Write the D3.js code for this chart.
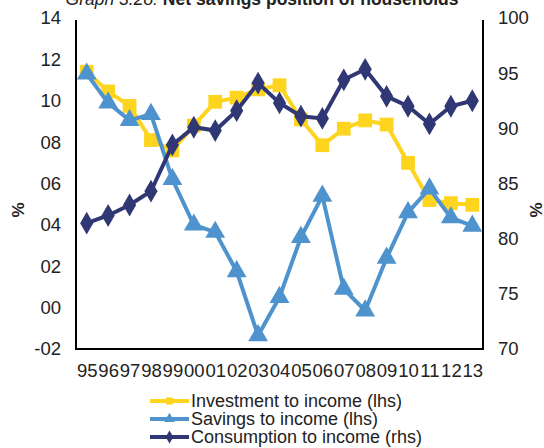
<!DOCTYPE html>
<html>
<head>
<meta charset="utf-8">
<script src="https://cdn.jsdelivr.net/npm/d3@7"></script>
<style>
  body { margin: 0; background: #fff; }
  text { font-family: "Liberation Sans", Arial, sans-serif; fill: #222; }
</style>
</head>
<body>
<div id="chart"></div>
<script>
// years along the x axis
const years = ["95","96","97","98","99","00","01","02","03","04","05","06","07","08","09","10","11","12","13"];

// lhs series (%)
const investment = [11.4, 10.45, 9.75, 8.1, 7.6, 8.8, 9.95, 10.15, 10.55, 10.75, 9.1, 7.85, 8.65, 9.05, 8.85, 7.0, 5.2, 5.05, 4.97];
const savings = [11.3, 9.9, 9.05, 9.35, 6.2, 4.0, 3.65, 1.75, -1.35, 0.5, 3.4, 5.4, 0.9, -0.15, 2.4, 4.6, 5.75, 4.35, 3.95];

// rhs series (%)
const consumption = [81.4, 82.1, 83.05, 84.3, 88.5, 90.1, 89.8, 91.6, 94.1, 92.3, 91.1, 90.9, 94.4, 95.35, 92.9, 92.0, 90.4, 92.0, 92.5];

const leftTicks = [-2, 0, 2, 4, 6, 8, 10, 12, 14];
const rightTicks = [70, 75, 80, 85, 90, 95, 100];

const W = 544, H = 448;
const margin = {top: 18, right: 61, bottom: 99, left: 76};

const svg = d3.select("#chart").append("svg")
  .attr("width", W)
  .attr("height", H);

const x = d3.scalePoint()
  .domain(years)
  .range([margin.left, W - margin.right])
  .padding(0.5);

const yL = d3.scaleLinear().domain([-2, 14]).range([H - margin.bottom, margin.top]);
const yR = d3.scaleLinear().domain([70, 100]).range([H - margin.bottom, margin.top]);

// title (partly clipped at the top like the original)
const title = svg.append("text")
  .attr("x", 262)
  .attr("y", 5)
  .attr("text-anchor", "middle")
  .style("font-size", "17.5px");
title.append("tspan").style("font-style", "italic").text("Graph 3.28: ");
title.append("tspan").style("font-weight", "bold").text("Net savings position of households");

// axes
const fmtL = d => d < 0 ? "-" + String(Math.abs(d)).padStart(2, "0") : String(d).padStart(2, "0");

const axL = svg.append("g")
  .attr("transform", `translate(${margin.left},0)`)
  .call(d3.axisLeft(yL).tickValues(leftTicks).tickFormat(fmtL).tickSize(0).tickPadding(15));
const axR = svg.append("g")
  .attr("transform", `translate(${W - margin.right},0)`)
  .call(d3.axisRight(yR).tickValues(rightTicks).tickSize(0).tickPadding(15));
const axB = svg.append("g")
  .attr("transform", `translate(0,${H - margin.bottom})`)
  .call(d3.axisBottom(x).tickSize(0).tickPadding(15));

[axL, axR, axB].forEach(a => {
  a.select(".domain").attr("stroke", "#000").attr("stroke-width", 2);
  a.selectAll("text").style("font-size", "18.5px").attr("fill", "#222");
});
axL.select(".domain").attr("d", `M0,${margin.top + 2}V${H - margin.bottom}`);
axR.select(".domain").attr("d", `M0,${margin.top + 2}V${H - margin.bottom}`);
axB.select(".domain").attr("d", `M${margin.left - 1},0H${W - margin.right + 1}`);

// % labels
svg.append("text")
  .attr("transform", "translate(24,210) rotate(-90)")
  .attr("text-anchor", "middle")
  .style("font-size", "17px").style("font-weight", "bold")
  .text("%");
svg.append("text")
  .attr("transform", "translate(542,210) rotate(-90)")
  .attr("text-anchor", "middle")
  .style("font-size", "17px").style("font-weight", "bold")
  .text("%");

const series = [
  {name: "Investment to income (lhs)", values: investment, y: yL, color: "#FDD41E", symbol: d3.symbolSquare, size: 190},
  {name: "Savings to income (lhs)", values: savings, y: yL, color: "#4E93CD", symbol: d3.symbolTriangle, size: 170},
  {name: "Consumption to income (rhs)", values: consumption, y: yR, color: "#2F3874", symbol: d3.symbolDiamond, size: 150}
];

series.forEach(s => {
  const line = d3.line()
    .x((d, i) => x(years[i]))
    .y(d => s.y(d));

  svg.append("path")
    .datum(s.values)
    .attr("fill", "none")
    .attr("stroke", s.color)
    .attr("stroke-width", 4)
    .attr("d", line);

  svg.selectAll(null)
    .data(s.values)
    .enter()
    .append("path")
    .attr("transform", (d, i) => `translate(${x(years[i])},${s.y(d)})`)
    .attr("d", d3.symbol().type(s.symbol).size(s.size))
    .attr("fill", s.color);
});

// legend
const legend = svg.append("g").attr("transform", "translate(150,401)");
series.forEach((s, i) => {
  const g = legend.append("g").attr("transform", `translate(0,${i * 18})`);
  g.append("line")
    .attr("x1", 0).attr("x2", 39)
    .attr("stroke", s.color).attr("stroke-width", 4);
  g.append("path")
    .attr("transform", "translate(19.5,0)")
    .attr("d", d3.symbol().type(s.symbol).size(50))
    .attr("fill", s.color);
  g.append("text")
    .attr("x", 41)
    .attr("dy", "0.35em")
    .style("font-size", "18px")
    .text(s.name);
});
</script>
</body>
</html>
